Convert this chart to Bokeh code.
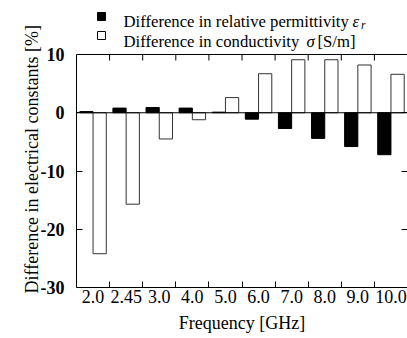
from bokeh.plotting import figure
from bokeh.models import ColumnDataSource, Range1d, FixedTicker, LinearAxis, Span
from bokeh.core.properties import value
from bokeh.transform import dodge
from bokeh.embed import file_html
from bokeh.resources import INLINE

frequencies = ["2.0", "2.45", "3.0", "4.0", "5.0", "6.0", "7.0", "8.0", "9.0", "10.0"]
permittivity_diff = [0.2, 0.8, 0.9, 0.8, 0.1, -1.1, -2.7, -4.4, -5.8, -7.2]
conductivity_diff = [-24.2, -15.7, -4.5, -1.2, 2.6, 6.7, 9.1, 9.1, 8.2, 6.6]
y_ticks = [10, 0, -10, -20, -30]
y_tick_labels = ["10", "0", "-10", "-20", "-30"]
legend_texts = ["Difference in relative permittivity", "Difference in conductivity"]
legend_symbols = ["\u03b5", "\u03c3"]
legend_fills = ["black", "white"]

FONT = "Liberation Serif"
FS = "18px"
LFS = "16.7px"
Y_MIN, Y_MAX = -30, 10

# pixel layout of the frame (frame extends above the axes box to hold the legend)
PAGE_FRAME_TOP, PAGE_BOX_TOP, PAGE_BOX_BOTTOM = 8, 54, 287
PAGE_LEFT, PAGE_RIGHT = 76, 407
units_per_px = (Y_MAX - Y_MIN) / (PAGE_BOX_BOTTOM - PAGE_BOX_TOP)
y_top = Y_MAX + (PAGE_BOX_TOP - PAGE_FRAME_TOP) * units_per_px

pos = [i + 0.5 for i in range(len(frequencies))]
src = ColumnDataSource(dict(x=pos, eps=permittivity_diff, sig=conductivity_diff))

p = figure(width=407, height=338, output_backend="svg", toolbar_location=None,
           x_range=Range1d(0, len(frequencies)), y_range=Range1d(Y_MIN, y_top),
           min_border_left=PAGE_LEFT, min_border_top=PAGE_FRAME_TOP,
           min_border_bottom=338 - PAGE_BOX_BOTTOM, min_border_right=0)
p.extra_x_ranges = {"px": Range1d(PAGE_LEFT, PAGE_RIGHT)}
p.extra_y_ranges = {"py": Range1d(PAGE_BOX_BOTTOM, PAGE_FRAME_TOP)}
p.xgrid.visible = False
p.ygrid.visible = False
p.outline_line_color = None
p.background_fill_color = "white"
p.border_fill_color = "white"

p.vbar(x=dodge("x", -0.2, range=p.x_range), top="eps", bottom=0, width=0.4, source=src,
       fill_color="black", line_color="black", line_width=1)
p.vbar(x=dodge("x", 0.2, range=p.x_range), top="sig", bottom=0, width=0.4, source=src,
       fill_color="white", line_color="#333333", line_width=1)

p.add_layout(Span(location=0, dimension="width", line_color="black", line_width=1))
p.add_layout(Span(location=Y_MAX, dimension="width", line_color="black", line_width=1))

boundaries = list(range(1, len(frequencies)))
# top tick marks (inside, at category boundaries)
p.segment(x0=boundaries, x1=boundaries, y0=[PAGE_BOX_TOP] * len(boundaries),
          y1=[PAGE_BOX_TOP + 6] * len(boundaries), y_range_name="py",
          line_color="black", line_width=1)

bx = p.xaxis[0]
bx.ticker = FixedTicker(ticks=pos, minor_ticks=boundaries)
bx.major_tick_in = 0
bx.major_tick_out = 0
bx.minor_tick_in = 6
bx.minor_tick_out = 0
bx.minor_tick_line_color = "black"
bx.axis_line_color = "black"
bx.major_label_overrides = {pv: f for pv, f in zip(pos, frequencies)}
bx.major_label_text_font = FONT
bx.major_label_text_font_size = FS
bx.major_label_text_color = "black"
bx.major_label_standoff = 2
bx.axis_label = "Frequency [GHz]"
bx.axis_label_text_font = FONT
bx.axis_label_text_font_size = FS
bx.axis_label_text_font_style = "normal"
bx.axis_label_text_color = "black"
bx.axis_label_standoff = 7

ly = p.yaxis[0]
ly.bounds = (Y_MIN, Y_MAX)
ly.ticker = FixedTicker(ticks=y_ticks, minor_ticks=[])
ly.major_label_overrides = {t: s for t, s in zip(y_ticks, y_tick_labels)}
ly.major_tick_in = 6
ly.major_tick_out = 0
ly.minor_tick_in = 0
ly.minor_tick_out = 0
ly.axis_line_color = "black"
ly.major_tick_line_color = "black"
ly.major_label_text_font = FONT
ly.major_label_text_font_size = FS
ly.major_label_text_font_style = "bold"
ly.major_label_text_color = "black"
ly.major_label_standoff = 12
# trailing spaces shift the visible label down toward the centre of the axes box
ly.axis_label = "Difference in electrical constants [%]\u2003\u2005"
ly.axis_label_text_font = FONT
ly.axis_label_text_font_size = FS
ly.axis_label_text_font_style = "normal"
ly.axis_label_text_color = "black"
ly.axis_label_standoff = -4

right_ax = LinearAxis(ticker=FixedTicker(ticks=[], minor_ticks=y_ticks), bounds=(Y_MIN, Y_MAX))
right_ax.minor_tick_in = 6
right_ax.minor_tick_out = 0
right_ax.minor_tick_line_color = "black"
right_ax.major_tick_in = 0
right_ax.major_tick_out = 0
right_ax.axis_line_color = None
right_ax.major_label_standoff = 0
p.add_layout(right_ax, "right")

# legend (pixel coordinates via the extra ranges)
row_y = [16, 35]
base_y = [21, 40.5]
p.scatter(x=[101, 101], y=row_y, marker="square", size=8, x_range_name="px", y_range_name="py",
          fill_color=legend_fills, line_color="black", line_width=1)
p.text(x=[123, 123], y=base_y, text=legend_texts, x_range_name="px", y_range_name="py",
       text_font=value(FONT), text_font_size=value(LFS), text_baseline="alphabetic",
       text_color="black")
p.text(x=[352, 306], y=base_y, text=legend_symbols, x_range_name="px", y_range_name="py",
       text_font=value(FONT), text_font_size=value(LFS), text_font_style="italic",
       text_baseline="alphabetic", text_color="black")
p.text(x=[360.5], y=[24], text=["r"], x_range_name="px", y_range_name="py",
       text_font=value(FONT), text_font_size=value("11.5px"), text_font_style="italic",
       text_baseline="alphabetic", text_color="black")
p.text(x=[317], y=[40.5], text=["[S/m]"], x_range_name="px", y_range_name="py",
       text_font=value(FONT), text_font_size=value(LFS), text_baseline="alphabetic",
       text_color="black")

open("out.html", "w").write(file_html(p, INLINE))
